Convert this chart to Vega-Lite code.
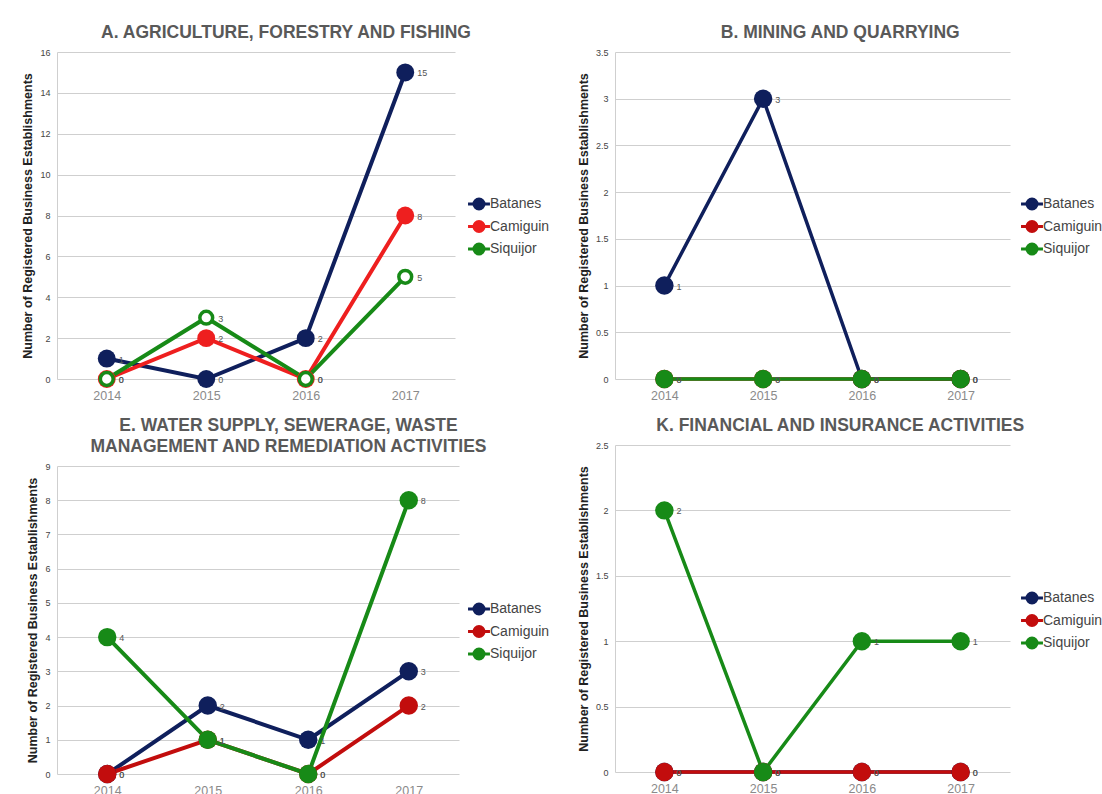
{
  "$schema": "https://vega.github.io/schema/vega-lite/v6.json",
  "background": "#ffffff",
  "padding": {"left": 21, "top": 23, "right": 0, "bottom": 0},
  "datasets": {
    "counts": [
      {"panel": "A", "province": "Batanes", "year": "2014", "count": 1},
      {"panel": "A", "province": "Batanes", "year": "2015", "count": 0},
      {"panel": "A", "province": "Batanes", "year": "2016", "count": 2},
      {"panel": "A", "province": "Batanes", "year": "2017", "count": 15},
      {"panel": "A", "province": "Camiguin", "year": "2014", "count": 0},
      {"panel": "A", "province": "Camiguin", "year": "2015", "count": 2},
      {"panel": "A", "province": "Camiguin", "year": "2016", "count": 0},
      {"panel": "A", "province": "Camiguin", "year": "2017", "count": 8},
      {"panel": "A", "province": "Siquijor", "year": "2014", "count": 0},
      {"panel": "A", "province": "Siquijor", "year": "2015", "count": 3},
      {"panel": "A", "province": "Siquijor", "year": "2016", "count": 0},
      {"panel": "A", "province": "Siquijor", "year": "2017", "count": 5},
      {"panel": "B", "province": "Batanes", "year": "2014", "count": 1},
      {"panel": "B", "province": "Batanes", "year": "2015", "count": 3},
      {"panel": "B", "province": "Batanes", "year": "2016", "count": 0},
      {"panel": "B", "province": "Batanes", "year": "2017", "count": 0},
      {"panel": "B", "province": "Camiguin", "year": "2014", "count": 0},
      {"panel": "B", "province": "Camiguin", "year": "2015", "count": 0},
      {"panel": "B", "province": "Camiguin", "year": "2016", "count": 0},
      {"panel": "B", "province": "Camiguin", "year": "2017", "count": 0},
      {"panel": "B", "province": "Siquijor", "year": "2014", "count": 0},
      {"panel": "B", "province": "Siquijor", "year": "2015", "count": 0},
      {"panel": "B", "province": "Siquijor", "year": "2016", "count": 0},
      {"panel": "B", "province": "Siquijor", "year": "2017", "count": 0},
      {"panel": "E", "province": "Batanes", "year": "2014", "count": 0},
      {"panel": "E", "province": "Batanes", "year": "2015", "count": 2},
      {"panel": "E", "province": "Batanes", "year": "2016", "count": 1},
      {"panel": "E", "province": "Batanes", "year": "2017", "count": 3},
      {"panel": "E", "province": "Camiguin", "year": "2014", "count": 0},
      {"panel": "E", "province": "Camiguin", "year": "2015", "count": 1},
      {"panel": "E", "province": "Camiguin", "year": "2016", "count": 0},
      {"panel": "E", "province": "Camiguin", "year": "2017", "count": 2},
      {"panel": "E", "province": "Siquijor", "year": "2014", "count": 4},
      {"panel": "E", "province": "Siquijor", "year": "2015", "count": 1},
      {"panel": "E", "province": "Siquijor", "year": "2016", "count": 0},
      {"panel": "E", "province": "Siquijor", "year": "2017", "count": 8},
      {"panel": "K", "province": "Batanes", "year": "2014", "count": 0},
      {"panel": "K", "province": "Batanes", "year": "2015", "count": 0},
      {"panel": "K", "province": "Batanes", "year": "2016", "count": 0},
      {"panel": "K", "province": "Batanes", "year": "2017", "count": 0},
      {"panel": "K", "province": "Camiguin", "year": "2014", "count": 0},
      {"panel": "K", "province": "Camiguin", "year": "2015", "count": 0},
      {"panel": "K", "province": "Camiguin", "year": "2016", "count": 0},
      {"panel": "K", "province": "Camiguin", "year": "2017", "count": 0},
      {"panel": "K", "province": "Siquijor", "year": "2014", "count": 2},
      {"panel": "K", "province": "Siquijor", "year": "2015", "count": 0},
      {"panel": "K", "province": "Siquijor", "year": "2016", "count": 1},
      {"panel": "K", "province": "Siquijor", "year": "2017", "count": 1}
    ]
  },
  "resolve": {
    "scale": {"x": "independent", "y": "independent", "color": "independent"},
    "axis": {"x": "independent", "y": "independent"},
    "legend": {"color": "independent"}
  },
  "spacing": 27,
  "hconcat": [
    {
      "spacing": 14,
      "resolve": {
        "scale": {"x": "independent", "y": "independent", "color": "independent"},
        "axis": {"x": "independent", "y": "independent"},
        "legend": {"color": "independent"}
      },
      "vconcat": [
        {
          "title": {"text": "A. AGRICULTURE, FORESTRY AND FISHING"},
          "width": 398,
          "height": 327,
          "data": {"name": "counts"},
          "transform": [{"filter": "datum.panel === 'A'"}],
          "encoding": {
            "x": {"field": "year", "type": "ordinal", "scale": {"type": "point", "padding": 0.5}},
            "y": {"field": "count", "type": "quantitative", "scale": {"domain": [0, 16], "nice": false},
                  "axis": {"values": [0, 2, 4, 6, 8, 10, 12, 14, 16], "format": "~g",
                           "title": "Number of Registered Business Establishments"}},
            "color": {
              "field": "province", "type": "nominal",
              "scale": {"domain": ["Batanes", "Camiguin", "Siquijor"], "range": ["#0f1f5c", "#ee1f1f", "#178a17"]},
              "legend": {
                "orient": "none", "legendX": 412, "legendY": 142,
                "encode": {"symbols": {"update": {
                  "fill": {"signal": "datum.value === 'Siquijor' ? '#ffffff' : datum.value === 'Camiguin' ? '#ee1f1f' : '#0f1f5c'"},
                  "stroke": {"signal": "datum.value === 'Siquijor' ? '#178a17' : datum.value === 'Camiguin' ? '#ee1f1f' : '#0f1f5c'"}
                }}}
              }
            }
          },
          "layer": [
            {"mark": {"type": "line", "strokeWidth": 4}},
            {"transform": [{"filter": "datum.province !== 'Siquijor'"}],
             "mark": {"type": "point", "filled": true, "size": 320, "opacity": 1}},
            {"transform": [{"filter": "datum.province === 'Siquijor'"}],
             "mark": {"type": "point", "filled": false, "fill": "#ffffff", "size": 165, "strokeWidth": 3.5, "opacity": 1}},
            {"mark": {"type": "text", "align": "left", "baseline": "middle", "dx": 12, "dy": 1, "fontSize": 9},
             "encoding": {"text": {"field": "count", "type": "quantitative"}, "color": {"value": "#555555"}}}
          ]
        },
        {
          "title": {"text": ["E. WATER SUPPLY, SEWERAGE, WASTE", "MANAGEMENT AND REMEDIATION ACTIVITIES"]},
          "width": 402,
          "height": 308,
          "data": {"name": "counts"},
          "transform": [{"filter": "datum.panel === 'E'"}],
          "encoding": {
            "x": {"field": "year", "type": "ordinal", "scale": {"type": "point", "padding": 0.5}},
            "y": {"field": "count", "type": "quantitative", "scale": {"domain": [0, 9], "nice": false},
                  "axis": {"values": [0, 1, 2, 3, 4, 5, 6, 7, 8, 9], "format": "~g",
                           "title": "Number of Registered Business Establishments"}},
            "color": {
              "field": "province", "type": "nominal",
              "scale": {"domain": ["Batanes", "Camiguin", "Siquijor"], "range": ["#0f1f5c", "#c20d0d", "#178a17"]},
              "legend": {
                "orient": "none", "legendX": 412, "legendY": 133,
                "encode": {"symbols": {"update": {
                  "fill": {"signal": "datum.value === 'Siquijor' ? '#178a17' : datum.value === 'Camiguin' ? '#c20d0d' : '#0f1f5c'"},
                  "stroke": {"signal": "datum.value === 'Siquijor' ? '#178a17' : datum.value === 'Camiguin' ? '#c20d0d' : '#0f1f5c'"}
                }}}
              }
            }
          },
          "layer": [
            {"mark": {"type": "line", "strokeWidth": 4}},
            {"mark": {"type": "point", "filled": true, "size": 340, "opacity": 1}},
            {"mark": {"type": "text", "align": "left", "baseline": "middle", "dx": 12, "dy": 1, "fontSize": 9},
             "encoding": {"text": {"field": "count", "type": "quantitative"}, "color": {"value": "#555555"}}}
          ]
        }
      ]
    },
    {
      "spacing": 14,
      "resolve": {
        "scale": {"x": "independent", "y": "independent", "color": "independent"},
        "axis": {"x": "independent", "y": "independent"},
        "legend": {"color": "independent"}
      },
      "vconcat": [
        {
          "title": {"text": "B. MINING AND QUARRYING"},
          "width": 395,
          "height": 327,
          "data": {"name": "counts"},
          "transform": [{"filter": "datum.panel === 'B'"}],
          "encoding": {
            "x": {"field": "year", "type": "ordinal", "scale": {"type": "point", "padding": 0.5}},
            "y": {"field": "count", "type": "quantitative", "scale": {"domain": [0, 3.5], "nice": false},
                  "axis": {"values": [0, 0.5, 1, 1.5, 2, 2.5, 3, 3.5], "format": "~g",
                           "title": "Number of Registered Business Establishments"}},
            "color": {
              "field": "province", "type": "nominal",
              "scale": {"domain": ["Batanes", "Camiguin", "Siquijor"], "range": ["#0f1f5c", "#c20d0d", "#178a17"]},
              "legend": {
                "orient": "none", "legendX": 407, "legendY": 142,
                "encode": {"symbols": {"update": {
                  "fill": {"signal": "datum.value === 'Siquijor' ? '#178a17' : datum.value === 'Camiguin' ? '#c20d0d' : '#0f1f5c'"},
                  "stroke": {"signal": "datum.value === 'Siquijor' ? '#178a17' : datum.value === 'Camiguin' ? '#c20d0d' : '#0f1f5c'"}
                }}}
              }
            }
          },
          "layer": [
            {"mark": {"type": "line", "strokeWidth": 3.5}},
            {"mark": {"type": "point", "filled": true, "size": 340, "opacity": 1}},
            {"mark": {"type": "text", "align": "left", "baseline": "middle", "dx": 12, "dy": 1, "fontSize": 9},
             "encoding": {"text": {"field": "count", "type": "quantitative"}, "color": {"value": "#555555"}}}
          ]
        },
        {
          "title": {"text": "K. FINANCIAL AND INSURANCE ACTIVITIES"},
          "width": 395,
          "height": 327,
          "data": {"name": "counts"},
          "transform": [{"filter": "datum.panel === 'K'"}],
          "encoding": {
            "x": {"field": "year", "type": "ordinal", "scale": {"type": "point", "padding": 0.5}},
            "y": {"field": "count", "type": "quantitative", "scale": {"domain": [0, 2.5], "nice": false},
                  "axis": {"values": [0, 0.5, 1, 1.5, 2, 2.5], "format": "~g",
                           "title": "Number of Registered Business Establishments"}},
            "color": {
              "field": "province", "type": "nominal",
              "scale": {"domain": ["Batanes", "Camiguin", "Siquijor"], "range": ["#0f1f5c", "#c20d0d", "#178a17"]},
              "legend": {
                "orient": "none", "legendX": 407, "legendY": 143,
                "encode": {"symbols": {"update": {
                  "fill": {"signal": "datum.value === 'Siquijor' ? '#178a17' : datum.value === 'Camiguin' ? '#c20d0d' : '#0f1f5c'"},
                  "stroke": {"signal": "datum.value === 'Siquijor' ? '#178a17' : datum.value === 'Camiguin' ? '#c20d0d' : '#0f1f5c'"}
                }}}
              }
            }
          },
          "layer": [
            {"mark": {"type": "line", "strokeWidth": 3.5}},
            {"mark": {"type": "point", "filled": true, "size": 340, "opacity": 1}},
            {"mark": {"type": "text", "align": "left", "baseline": "middle", "dx": 12, "dy": 1, "fontSize": 9},
             "encoding": {"text": {"field": "count", "type": "quantitative"}, "color": {"value": "#555555"}}}
          ]
        }
      ]
    }
  ],
  "config": {
    "font": "Liberation Sans",
    "view": {"stroke": null},
    "title": {
      "font": "Liberation Sans", "fontSize": 17.5, "fontWeight": "bold", "color": "#595959",
      "anchor": "middle", "frame": "bounds", "offset": 7, "lineHeight": 21
    },
    "axisX": {
      "title": null, "labelAngle": 0, "ticks": false, "domain": false, "grid": false,
      "labelColor": "#8a8a8a", "labelFontSize": 12.5, "labelPadding": 10, "labelFont": "Liberation Sans"
    },
    "axisY": {
      "titleFontSize": 12.5, "titleFontWeight": "bold", "titleColor": "#222222", "titlePadding": 5,
      "titleFont": "Liberation Sans",
      "ticks": false, "domain": true, "domainColor": "#cfcfcf", "domainWidth": 1,
      "grid": true, "gridColor": "#cfcfcf", "gridWidth": 1,
      "labelFontSize": 9, "labelColor": "#444444", "labelPadding": 7, "labelFont": "Liberation Sans"
    },
    "legend": {
      "title": null,
      "symbolType": "M-1.29,0L1.29,0M0.59,0A0.59,0.59,0,1,1,-0.59,0A0.59,0.59,0,1,1,0.59,0Z",
      "symbolSize": 289, "symbolStrokeWidth": 3,
      "labelFontSize": 14, "labelColor": "#444444", "labelOffset": 1, "labelFont": "Liberation Sans",
      "rowPadding": -1.5, "padding": 0
    }
  }
}
